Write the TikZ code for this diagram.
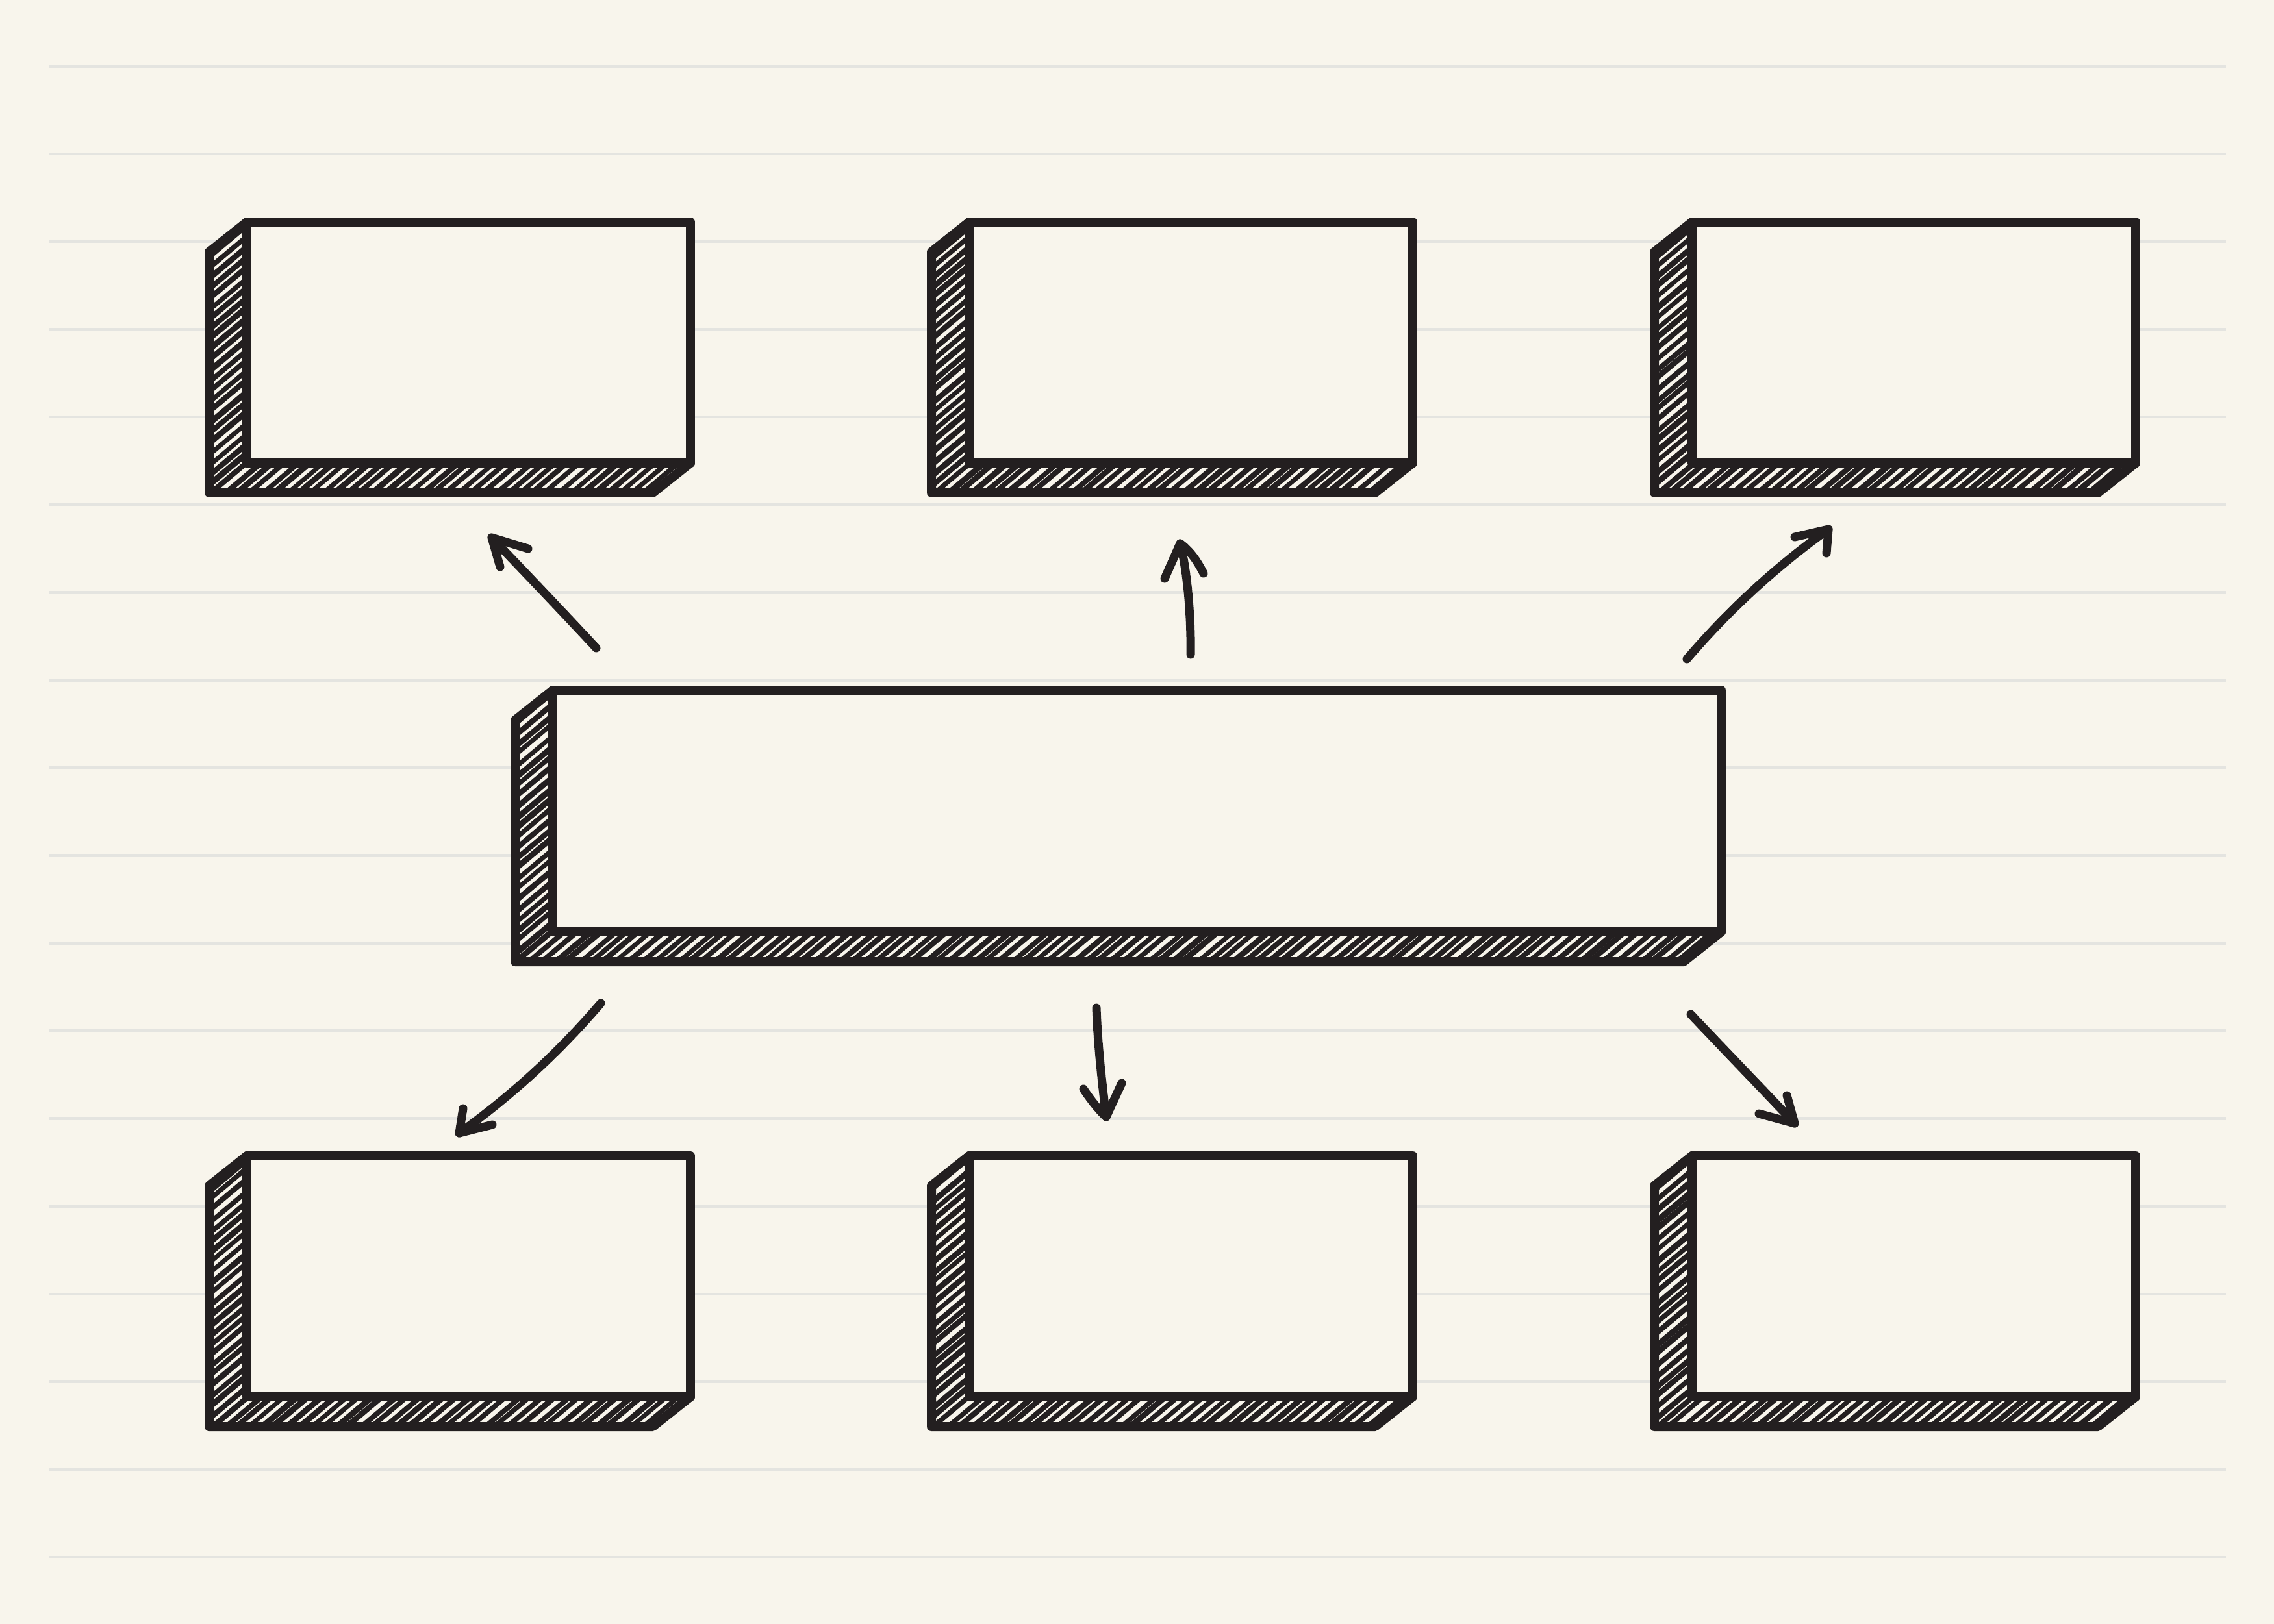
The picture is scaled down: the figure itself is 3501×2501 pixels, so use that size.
\documentclass[tikz,border=0pt]{standalone}
\usetikzlibrary{calc}
\definecolor{paper}{RGB}{248,245,236}
\definecolor{ruling}{RGB}{228,228,224}
\definecolor{ink}{RGB}{35,31,32}
\tikzset{
  outline/.style={draw=ink, line width=1.4mm, line join=round, line cap=round},
  frontface/.style={draw=ink, fill=paper, line width=1.4mm, line join=round, inner sep=0pt, outer sep=0pt, anchor=north west},
  penarrow/.style={draw=ink, line width=1.3mm, line cap=round, line join=round},
  ruleline/.style={draw=ruling, line width=0.45mm},
}
% #1 name, #2 x, #3 y (front top-left), #4 width, #5 height  (pixel units)
\newcommand\hatchbox[5]{%
  \fill[paper] (#2,#3) -- (#2-58,#3+46) -- (#2-58,#3+#5+46) -- (#2+#4-58,#3+#5+46) -- (#2+#4,#3+#5) -- (#2+#4,#3) -- cycle;
  \begin{scope}
    \clip (#2,#3) -- (#2-58,#3+46) -- (#2-58,#3+#5+46) -- (#2+#4-58,#3+#5+46) -- (#2+#4,#3+#5) -- (#2+#4,#3) -- cycle;
    \pgfmathsetmacro\hbhh{#5+66}
    \pgfmathsetmacro\hbdx{1.19*\hbhh}
    \pgfmathtruncatemacro\hbnn{(#4+58+\hbdx)/19+1}
    \foreach \k in {0,...,\hbnn}{
      \pgfmathsetmacro\hbxs{#2-58-\hbdx+\k*19+3*rand}
      \pgfmathsetmacro\hblw{0.8+0.12*rand}
      \draw[draw=ink, line width=\hblw mm, line cap=round] (\hbxs,#3+#5+56) -- ++(\hbdx,-\hbhh);
    }
  \end{scope}
  \draw[outline] (#2,#3) -- (#2-58,#3+46) -- (#2-58,#3+#5+46) -- (#2+#4-58,#3+#5+46) -- (#2+#4,#3+#5);
  \pgfmathsetlengthmacro\hbw{#4*0.1mm}
  \pgfmathsetlengthmacro\hbh{#5*0.1mm}
  \node[frontface, minimum width=\hbw, minimum height=\hbh] (#1) at (#2,#3) {};
}
\begin{document}
\begin{tikzpicture}[x=0.1mm, y=-0.1mm]
  \pgfmathsetseed{7}
  \path[use as bounding box, fill=paper] (0,0) rectangle (3501,2501);
  % ruled paper
  \foreach \r in {0,...,17}{
    \draw[ruleline] (75,{102+135.06*\r}) -- (3427,{102+135.06*\r});
  }
  % boxes
  \hatchbox{top1}{380}{342}{683}{371}
  \hatchbox{top2}{1492}{342}{683}{371}
  \hatchbox{top3}{2605}{342}{683}{371}
  \hatchbox{mid}{851}{1063}{1799}{372}
  \hatchbox{bot1}{380}{1780}{683}{371}
  \hatchbox{bot2}{1492}{1780}{683}{371}
  \hatchbox{bot3}{2605}{1780}{683}{371}
  % arrow end points
  \coordinate (t1) at (918,998);   \coordinate (h1) at (757,828);
  \coordinate (h1a) at (813,845);  \coordinate (h1b) at (770,873);
  \coordinate (t2) at (1833,1008); \coordinate (h2) at (1817,837);
  \coordinate (h2a) at (1793,891); \coordinate (h2b) at (1853,883);
  \coordinate (t3) at (2597,1015); \coordinate (h3) at (2815,815);
  \coordinate (h3a) at (2763,827); \coordinate (h3b) at (2812,852);
  \coordinate (t4) at (925,1545);  \coordinate (h4) at (707,1745);
  \coordinate (h4a) at (713,1707); \coordinate (h4b) at (758,1732);
  \coordinate (t5) at (1688,1552); \coordinate (h5) at (1703,1720);
  \coordinate (h5a) at (1668,1677); \coordinate (h5b) at (1727,1668);
  \coordinate (t6) at (2603,1562); \coordinate (h6) at (2763,1730);
  \coordinate (h6a) at (2708,1715); \coordinate (h6b) at (2751,1687);
  % shafts
  \draw[penarrow] (t1) .. controls (866,942) and (803,876) .. (h1);
  \draw[penarrow] (t2) .. controls (1834,950) and (1828,880) .. (h2);
  \draw[penarrow] (t3) .. controls (2662,939) and (2734,873) .. (h3);
  \draw[penarrow] (t4) .. controls (860,1621) and (788,1687) .. (h4);
  \draw[penarrow] (t5) .. controls (1690,1610) and (1697,1670) .. (h5);
  \draw[penarrow] (t6) .. controls (2655,1617) and (2713,1677) .. (h6);
  % heads
  \draw[penarrow] (h1a) -- (h1) -- (h1b);
  \draw[penarrow] (h2a) -- (h2) .. controls (1835,850) and (1845,868) .. (h2b);
  \draw[penarrow] (h3a) -- (h3) -- (h3b);
  \draw[penarrow] (h4a) -- (h4) -- (h4b);
  \draw[penarrow] (h5a) .. controls (1680,1695) and (1692,1710) .. (h5) -- (h5b);
  \draw[penarrow] (h6a) -- (h6) -- (h6b);
\end{tikzpicture}
\end{document}
